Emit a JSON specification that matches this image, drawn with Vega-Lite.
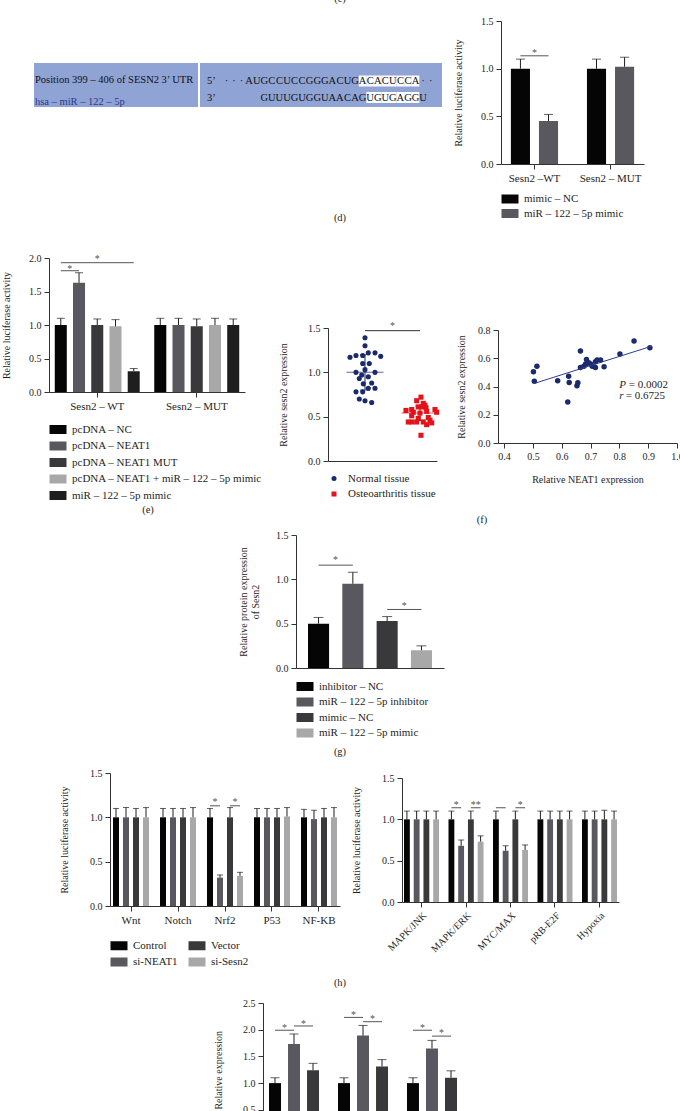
{
"$schema":"https://vega.github.io/schema/vega-lite/v6.json",
"background":"white",
"width":680,"height":1111,
"autosize":"none",
"padding":0,
"config":{
 "font":"Liberation Serif",
 "view":{"stroke":null},
 "axis":{"labelFont":"Liberation Serif","titleFont":"Liberation Serif","labelFontSize":10,"titleFontSize":10,"titleFontWeight":"normal","labelColor":"#1e1e1e","titleColor":"#1e1e1e","domainColor":"#333333","tickColor":"#333333","tickSize":5,"labelPadding":3,"grid":false,"labelFlush":false},
 "legend":{"labelFont":"Liberation Serif","labelFontSize":11,"labelColor":"#1e1e1e","symbolStrokeWidth":0,"labelOffset":8.5,"labelLimit":400},
 "text":{"font":"Liberation Serif"}
},
"resolve":{"scale":{"x":"independent","y":"independent","xOffset":"independent","color":"independent","shape":"independent"},"axis":{"x":"independent","y":"independent"},"legend":{"color":"independent","shape":"independent"}},
"layer":[
 {"data":{"values":[{"t":"(c)"}]},"mark":{"type":"text","fontSize":10.5,"color":"#1e1e1e"},
  "encoding":{"text":{"field":"t","type":"nominal"},"x":{"field":"t","type":"nominal","scale":{"range":[0,680]},"axis":null},"y":{"field":"t","type":"nominal","scale":{"range":[-12,9]},"axis":null}}},
 {"data":{"values":[{"t":"(d)"}]},"mark":{"type":"text","fontSize":10.5,"color":"#1e1e1e"},
  "encoding":{"text":{"field":"t","type":"nominal"},"x":{"field":"t","type":"nominal","scale":{"range":[0,680]},"axis":null},"y":{"field":"t","type":"nominal","scale":{"range":[208,228]},"axis":null}}},
 {"data":{"values":[{"t":"(e)"},{"t":"(f)"}]},"mark":{"type":"text","fontSize":10.5,"color":"#1e1e1e"},
  "encoding":{"text":{"field":"t","type":"nominal"},"x":{"field":"t","type":"nominal","scale":{"domain":["(e)","(f)"],"range":[-19,649],"paddingInner":0,"paddingOuter":0},"axis":null},"y":{"field":"t","type":"nominal","scale":{"range":[505,525]},"axis":null}}},
 {"data":{"values":[{"t":"(g)"}]},"mark":{"type":"text","fontSize":10.5,"color":"#1e1e1e"},
  "encoding":{"text":{"field":"t","type":"nominal"},"x":{"field":"t","type":"nominal","scale":{"range":[0,680]},"axis":null},"y":{"field":"t","type":"nominal","scale":{"range":[742,762]},"axis":null}}},
 {"data":{"values":[{"t":"(h)"}]},"mark":{"type":"text","fontSize":10.5,"color":"#1e1e1e"},
  "encoding":{"text":{"field":"t","type":"nominal"},"x":{"field":"t","type":"nominal","scale":{"range":[0,680]},"axis":null},"y":{"field":"t","type":"nominal","scale":{"range":[973,993]},"axis":null}}},

 {"data":{"values":[{"c":"L"}]},"mark":{"type":"rect","color":"#8fa3d4"},
  "encoding":{"x":{"field":"c","type":"nominal","scale":{"range":[34,198],"paddingInner":0,"paddingOuter":0},"axis":null},"y":{"field":"c","type":"nominal","scale":{"range":[63,107],"paddingInner":0,"paddingOuter":0},"axis":null}}},
 {"data":{"values":[{"c":"R"}]},"mark":{"type":"rect","color":"#8fa3d4"},
  "encoding":{"x":{"field":"c","type":"nominal","scale":{"range":[200,442],"paddingInner":0,"paddingOuter":0},"axis":null},"y":{"field":"c","type":"nominal","scale":{"range":[63,107],"paddingInner":0,"paddingOuter":0},"axis":null}}},
 {"data":{"values":[{"col":"c","row":"s5","t":"Position 399 – 406 of SESN2 3’ UTR"},{"col":"c","row":"s3","t":"hsa – miR – 122 – 5p"}]},
  "encoding":{
    "x":{"field":"col","type":"nominal","scale":{"type":"point","padding":0,"align":0,"range":[34,198]},"axis":null},
    "y":{"field":"row","type":"nominal","scale":{"domain":["s5","s3"],"range":[63,107],"paddingInner":0.333,"paddingOuter":0.5,"align":0.758},"axis":null},
    "text":{"field":"t","type":"nominal"}},
  "layer":[
    {"transform":[{"filter":"datum.row == 's5'"}],"mark":{"type":"text","align":"left","baseline":"middle","dx":1,"fontSize":10.5,"color":"#111111"}},
    {"transform":[{"filter":"datum.row == 's3'"}],"mark":{"type":"text","align":"left","baseline":"middle","dx":1,"fontSize":10.5,"color":"#2b3990"}}
  ]},
 {"data":{"values":[
    {"row":"s5","pos":1,"nt":"5’"},{"row":"s5","pos":3,"nt":"·"},{"row":"s5","pos":4,"nt":"·"},{"row":"s5","pos":5,"nt":"·"},
    {"row":"s5","pos":6,"nt":"A"},{"row":"s5","pos":7,"nt":"U"},{"row":"s5","pos":8,"nt":"G"},{"row":"s5","pos":9,"nt":"C"},{"row":"s5","pos":10,"nt":"C"},{"row":"s5","pos":11,"nt":"U"},{"row":"s5","pos":12,"nt":"C"},{"row":"s5","pos":13,"nt":"C"},{"row":"s5","pos":14,"nt":"G"},{"row":"s5","pos":15,"nt":"G"},{"row":"s5","pos":16,"nt":"G"},{"row":"s5","pos":17,"nt":"A"},{"row":"s5","pos":18,"nt":"C"},{"row":"s5","pos":19,"nt":"U"},{"row":"s5","pos":20,"nt":"G"},
    {"row":"s5","pos":21,"nt":"A","seed":true},{"row":"s5","pos":22,"nt":"C","seed":true},{"row":"s5","pos":23,"nt":"A","seed":true},{"row":"s5","pos":24,"nt":"C","seed":true},{"row":"s5","pos":25,"nt":"U","seed":true},{"row":"s5","pos":26,"nt":"C","seed":true},{"row":"s5","pos":27,"nt":"C","seed":true},{"row":"s5","pos":28,"nt":"A","seed":true},
    {"row":"s5","pos":29,"nt":"·"},{"row":"s5","pos":30,"nt":"·"},
    {"row":"s3","pos":1,"nt":"3’"},
    {"row":"s3","pos":8,"nt":"G"},{"row":"s3","pos":9,"nt":"U"},{"row":"s3","pos":10,"nt":"U"},{"row":"s3","pos":11,"nt":"U"},{"row":"s3","pos":12,"nt":"G"},{"row":"s3","pos":13,"nt":"U"},{"row":"s3","pos":14,"nt":"G"},{"row":"s3","pos":15,"nt":"G"},{"row":"s3","pos":16,"nt":"U"},{"row":"s3","pos":17,"nt":"A"},{"row":"s3","pos":18,"nt":"A"},{"row":"s3","pos":19,"nt":"C"},{"row":"s3","pos":20,"nt":"A"},{"row":"s3","pos":21,"nt":"G"},
    {"row":"s3","pos":22,"nt":"U","seed":true},{"row":"s3","pos":23,"nt":"G","seed":true},{"row":"s3","pos":24,"nt":"U","seed":true},{"row":"s3","pos":25,"nt":"G","seed":true},{"row":"s3","pos":26,"nt":"A","seed":true},{"row":"s3","pos":27,"nt":"G","seed":true},{"row":"s3","pos":28,"nt":"G","seed":true},
    {"row":"s3","pos":29,"nt":"U"}]},
  "encoding":{
    "x":{"field":"pos","type":"ordinal","axis":null,"scale":{"domain":[0,1,2,3,4,5,6,7,8,9,10,11,12,13,14,15,16,17,18,19,20,21,22,23,24,25,26,27,28,29,30,31],"range":[200,442],"paddingInner":0,"paddingOuter":0}},
    "y":{"field":"row","type":"nominal","axis":null,"scale":{"domain":["s5","s3"],"range":[63,107],"paddingInner":0.333,"paddingOuter":0.5,"align":0.758}}},
  "layer":[
    {"transform":[{"filter":"datum.seed"}],"mark":{"type":"rect","color":"#ffffff"}},
    {"mark":{"type":"text","baseline":"middle","fontSize":10.5,"color":"#111111"},"encoding":{"text":{"field":"nt","type":"nominal"}}}
  ]},

 {"data":{"values":[
    {"g":"Sesn2 –WT","s":"mimic – NC","v":1.0,"e":1.1},
    {"g":"Sesn2 –WT","s":"miR – 122 – 5p mimic","v":0.45,"e":0.52},
    {"g":"Sesn2 – MUT","s":"mimic – NC","v":1.0,"e":1.1},
    {"g":"Sesn2 – MUT","s":"miR – 122 – 5p mimic","v":1.02,"e":1.12}]},
  "encoding":{
    "x":{"field":"g","type":"nominal","scale":{"domain":["Sesn2 –WT","Sesn2 – MUT"],"range":[501,644],"paddingInner":0.38,"paddingOuter":0.13},"axis":{"orient":"bottom","offset":-947,"title":null,"labelAngle":0,"labelFontSize":11}},
    "xOffset":{"field":"s","type":"nominal","scale":{"domain":["mimic – NC","miR – 122 – 5p mimic"],"paddingInner":0.32,"paddingOuter":0}}},
  "layer":[
    {"mark":{"type":"bar"},"encoding":{
      "y":{"field":"v","type":"quantitative","title":"Relative luciferase activity","scale":{"domain":[0,1.5],"nice":false,"range":[164,21]},"axis":{"orient":"left","offset":-501,"values":[0,0.5,1,1.5],"format":".1f","titlePadding":17}},
      "color":{"field":"s","type":"nominal","scale":{"domain":["mimic – NC","miR – 122 – 5p mimic"],"range":["#050505","#58585e"]},"legend":{"title":null,"orient":"none","legendX":504.5,"legendY":193.5,"symbolType":"M-1.7,-0.9H1.7V0.9H-1.7Z","symbolSize":100,"rowPadding":2.5}}}},
    {"mark":{"type":"rule","color":"#1e1e1e","strokeWidth":1},"encoding":{
      "y":{"field":"v","type":"quantitative","title":"Relative luciferase activity","scale":{"domain":[0,1.5],"nice":false,"range":[164,21]},"axis":{"orient":"left","offset":-501,"values":[0,0.5,1,1.5],"format":".1f","titlePadding":17}},
      "y2":{"field":"e"}}},
    {"mark":{"type":"tick","orient":"horizontal","size":9,"thickness":1,"color":"#1e1e1e"},"encoding":{
      "y":{"field":"e","type":"quantitative","title":"Relative luciferase activity","scale":{"domain":[0,1.5],"nice":false,"range":[164,21]},"axis":{"orient":"left","offset":-501,"values":[0,0.5,1,1.5],"format":".1f","titlePadding":17}}}},
    {"data":{"values":[{"id":1,"g":"Sesn2 –WT","s":"mimic – NC","lv":1.135},{"id":1,"g":"Sesn2 –WT","s":"miR – 122 – 5p mimic","lv":1.135}]},
     "mark":{"type":"line","color":"#555555","strokeWidth":1},"encoding":{
      "y":{"field":"lv","type":"quantitative","title":"Relative luciferase activity","scale":{"domain":[0,1.5],"nice":false,"range":[164,21]},"axis":{"orient":"left","offset":-501,"values":[0,0.5,1,1.5],"format":".1f","titlePadding":17}},
      "detail":{"field":"id","type":"nominal"}}},
    {"data":{"values":[{"g":"Sesn2 –WT","s":"mimic – NC","lv":1.19,"t":"*"}]},
     "mark":{"type":"text","dx":14,"dy":2,"fontSize":10,"color":"#555555"},"encoding":{
      "y":{"field":"lv","type":"quantitative","title":"Relative luciferase activity","scale":{"domain":[0,1.5],"nice":false,"range":[164,21]},"axis":{"orient":"left","offset":-501,"values":[0,0.5,1,1.5],"format":".1f","titlePadding":17}},
      "text":{"field":"t","type":"nominal"}}}
  ]},

 {"data":{"values":[
    {"g":"Sesn2 – WT","s":"pcDNA – NC","v":1.0,"e":1.1},
    {"g":"Sesn2 – WT","s":"pcDNA – NEAT1","v":1.63,"e":1.78},
    {"g":"Sesn2 – WT","s":"pcDNA – NEAT1 MUT","v":1.0,"e":1.09},
    {"g":"Sesn2 – WT","s":"pcDNA – NEAT1 + miR – 122 – 5p mimic","v":0.98,"e":1.08},
    {"g":"Sesn2 – WT","s":"miR – 122 – 5p mimic","v":0.31,"e":0.35},
    {"g":"Sesn2 – MUT","s":"pcDNA – NC","v":1.0,"e":1.1},
    {"g":"Sesn2 – MUT","s":"pcDNA – NEAT1","v":1.0,"e":1.1},
    {"g":"Sesn2 – MUT","s":"pcDNA – NEAT1 MUT","v":0.98,"e":1.09},
    {"g":"Sesn2 – MUT","s":"pcDNA – NEAT1 + miR – 122 – 5p mimic","v":1.0,"e":1.1},
    {"g":"Sesn2 – MUT","s":"miR – 122 – 5p mimic","v":1.0,"e":1.09}]},
  "encoding":{
    "x":{"field":"g","type":"nominal","scale":{"domain":["Sesn2 – WT","Sesn2 – MUT"],"range":[49,245],"paddingInner":0.146,"paddingOuter":0.058},"axis":{"orient":"bottom","offset":-719,"title":null,"labelAngle":0,"labelFontSize":11}},
    "xOffset":{"field":"s","type":"nominal","scale":{"domain":["pcDNA – NC","pcDNA – NEAT1","pcDNA – NEAT1 MUT","pcDNA – NEAT1 + miR – 122 – 5p mimic","miR – 122 – 5p mimic"],"paddingInner":0.34,"paddingOuter":0}}},
  "layer":[
    {"mark":{"type":"bar"},"encoding":{
      "y":{"field":"v","type":"quantitative","title":"Relative luciferase activity","scale":{"domain":[0,2],"nice":false,"range":[392,258]},"axis":{"orient":"left","offset":-49,"values":[0,0.5,1,1.5,2],"format":".1f","titlePadding":17}},
      "color":{"field":"s","type":"nominal","scale":{"domain":["pcDNA – NC","pcDNA – NEAT1","pcDNA – NEAT1 MUT","pcDNA – NEAT1 + miR – 122 – 5p mimic","miR – 122 – 5p mimic"],"range":["#050505","#58585e","#39393b","#a8a8a8","#1e1e1e"]},"legend":{"title":null,"orient":"none","legendX":52.5,"legendY":424,"symbolType":"M-1.7,-0.9H1.7V0.9H-1.7Z","symbolSize":100,"rowPadding":4.5}}}},
    {"mark":{"type":"rule","color":"#1e1e1e","strokeWidth":1},"encoding":{
      "y":{"field":"v","type":"quantitative","title":"Relative luciferase activity","scale":{"domain":[0,2],"nice":false,"range":[392,258]},"axis":{"orient":"left","offset":-49,"values":[0,0.5,1,1.5,2],"format":".1f","titlePadding":17}},
      "y2":{"field":"e"}}},
    {"mark":{"type":"tick","orient":"horizontal","size":8,"thickness":1,"color":"#1e1e1e"},"encoding":{
      "y":{"field":"e","type":"quantitative","title":"Relative luciferase activity","scale":{"domain":[0,2],"nice":false,"range":[392,258]},"axis":{"orient":"left","offset":-49,"values":[0,0.5,1,1.5,2],"format":".1f","titlePadding":17}}}},
    {"data":{"values":[{"id":1,"g":"Sesn2 – WT","s":"pcDNA – NC","lv":1.81},{"id":1,"g":"Sesn2 – WT","s":"pcDNA – NEAT1","lv":1.81},{"id":2,"g":"Sesn2 – WT","s":"pcDNA – NC","lv":1.93},{"id":2,"g":"Sesn2 – WT","s":"miR – 122 – 5p mimic","lv":1.93}]},
     "mark":{"type":"line","color":"#555555","strokeWidth":1},"encoding":{
      "y":{"field":"lv","type":"quantitative","title":"Relative luciferase activity","scale":{"domain":[0,2],"nice":false,"range":[392,258]},"axis":{"orient":"left","offset":-49,"values":[0,0.5,1,1.5,2],"format":".1f","titlePadding":17}},
      "detail":{"field":"id","type":"nominal"}}},
    {"data":{"values":[{"g":"Sesn2 – WT","s":"pcDNA – NC","lv":1.87,"t":"*"}]},
     "mark":{"type":"text","dx":9,"dy":2,"fontSize":10,"color":"#555555"},"encoding":{
      "y":{"field":"lv","type":"quantitative","title":"Relative luciferase activity","scale":{"domain":[0,2],"nice":false,"range":[392,258]},"axis":{"orient":"left","offset":-49,"values":[0,0.5,1,1.5,2],"format":".1f","titlePadding":17}},
      "text":{"field":"t","type":"nominal"}}},
    {"data":{"values":[{"g":"Sesn2 – WT","s":"pcDNA – NEAT1 MUT","lv":2.01,"t":"*"}]},
     "mark":{"type":"text","dy":2,"fontSize":10,"color":"#555555"},"encoding":{
      "y":{"field":"lv","type":"quantitative","title":"Relative luciferase activity","scale":{"domain":[0,2],"nice":false,"range":[392,258]},"axis":{"orient":"left","offset":-49,"values":[0,0.5,1,1.5,2],"format":".1f","titlePadding":17}},
      "text":{"field":"t","type":"nominal"}}}
  ]},

 {"layer":[
    {"data":{"values":[
      {"grp":"Normal tissue","v":1.39,"j":0},{"grp":"Normal tissue","v":1.30,"j":0},{"grp":"Normal tissue","v":1.17,"j":-15},{"grp":"Normal tissue","v":1.19,"j":-9},{"grp":"Normal tissue","v":1.19,"j":-2.3},{"grp":"Normal tissue","v":1.22,"j":3.3},{"grp":"Normal tissue","v":1.22,"j":10},{"grp":"Normal tissue","v":1.18,"j":15.7},{"grp":"Normal tissue","v":1.10,"j":-2.3},{"grp":"Normal tissue","v":1.10,"j":4.3},{"grp":"Normal tissue","v":1.03,"j":0},{"grp":"Normal tissue","v":1.0,"j":-9},{"grp":"Normal tissue","v":1.0,"j":10},{"grp":"Normal tissue","v":0.97,"j":-3.3},{"grp":"Normal tissue","v":0.95,"j":3.3},{"grp":"Normal tissue","v":0.93,"j":-5.7},{"grp":"Normal tissue","v":0.87,"j":-1.7},{"grp":"Normal tissue","v":0.88,"j":6.7},{"grp":"Normal tissue","v":0.82,"j":3.3},{"grp":"Normal tissue","v":0.82,"j":10},{"grp":"Normal tissue","v":0.78,"j":-9},{"grp":"Normal tissue","v":0.78,"j":-2.3},{"grp":"Normal tissue","v":0.70,"j":-5.7},{"grp":"Normal tissue","v":0.68,"j":0},{"grp":"Normal tissue","v":0.66,"j":6.7},
      {"grp":"Osteoarthritis tissue","v":0.72,"j":1},{"grp":"Osteoarthritis tissue","v":0.68,"j":-3.3},{"grp":"Osteoarthritis tissue","v":0.65,"j":3.3},{"grp":"Osteoarthritis tissue","v":0.63,"j":5},{"grp":"Osteoarthritis tissue","v":0.61,"j":-1.7},{"grp":"Osteoarthritis tissue","v":0.60,"j":6},{"grp":"Osteoarthritis tissue","v":0.58,"j":-8.3},{"grp":"Osteoarthritis tissue","v":0.57,"j":-14},{"grp":"Osteoarthritis tissue","v":0.58,"j":15},{"grp":"Osteoarthritis tissue","v":0.55,"j":-6.7},{"grp":"Osteoarthritis tissue","v":0.54,"j":0},{"grp":"Osteoarthritis tissue","v":0.56,"j":6.7},{"grp":"Osteoarthritis tissue","v":0.55,"j":16.7},{"grp":"Osteoarthritis tissue","v":0.51,"j":-8.3},{"grp":"Osteoarthritis tissue","v":0.49,"j":8.3},{"grp":"Osteoarthritis tissue","v":0.46,"j":10},{"grp":"Osteoarthritis tissue","v":0.44,"j":-8.3},{"grp":"Osteoarthritis tissue","v":0.44,"j":-3.3},{"grp":"Osteoarthritis tissue","v":0.44,"j":3.3},{"grp":"Osteoarthritis tissue","v":0.43,"j":11.7},{"grp":"Osteoarthritis tissue","v":0.41,"j":6.7},{"grp":"Osteoarthritis tissue","v":0.29,"j":1},{"grp":"Osteoarthritis tissue","v":0.44,"j":-11.7},{"grp":"Osteoarthritis tissue","v":0.48,"j":-1.7},{"grp":"Osteoarthritis tissue","v":0.61,"j":1.7}]},
     "mark":{"type":"point","filled":true,"opacity":1,"size":26,"strokeWidth":0},
     "encoding":{
       "x":{"field":"grp","type":"nominal","scale":{"domain":["Normal tissue","Osteoarthritis tissue"],"range":[328,437],"paddingInner":0.5,"paddingOuter":0.241,"align":0.877},"axis":{"orient":"bottom","offset":-650,"labels":false,"ticks":false,"title":null}},
       "xOffset":{"field":"j","type":"quantitative","scale":{"domain":[-20,20],"range":[-6.25,33.75]}},
       "y":{"field":"v","type":"quantitative","title":"Relative sesn2 expression","scale":{"domain":[0,1.5],"nice":false,"range":[461,328]},"axis":{"orient":"left","offset":-328,"values":[0,0.5,1,1.5],"format":".1f","titlePadding":19}},
       "color":{"field":"grp","type":"nominal","scale":{"domain":["Normal tissue","Osteoarthritis tissue"],"range":["#1b2a6b","#e3121b"]},"legend":{"title":null,"orient":"none","legendX":328.5,"legendY":473,"symbolSize":25,"rowPadding":3.5,"labelOffset":8.5}},
       "shape":{"field":"grp","type":"nominal","scale":{"domain":["Normal tissue","Osteoarthritis tissue"],"range":["circle","square"]},"legend":{"title":null,"orient":"none","legendX":328.5,"legendY":473,"symbolSize":25,"rowPadding":3.5,"labelOffset":8.5}}}},
    {"data":{"values":[{"grp":"Normal tissue","m":1.0,"lo":0.8,"hi":1.2},{"grp":"Osteoarthritis tissue","m":0.54,"lo":0.46,"hi":0.62}]},
     "encoding":{
       "x":{"field":"grp","type":"nominal","scale":{"domain":["Normal tissue","Osteoarthritis tissue"],"range":[328,437],"paddingInner":0.5,"paddingOuter":0.241,"align":0.877},"axis":{"orient":"bottom","offset":-650,"labels":false,"ticks":false,"title":null}},
       "color":{"field":"grp","type":"nominal","scale":{"domain":["Normal tissue","Osteoarthritis tissue"],"range":["#1b2a6b","#e3121b"]},"legend":{"title":null,"orient":"none","legendX":328.5,"legendY":473,"symbolSize":25,"rowPadding":3.5,"labelOffset":8.5}}},
     "layer":[
       {"mark":{"type":"tick","orient":"horizontal","size":37,"thickness":1},"encoding":{"y":{"field":"m","type":"quantitative","title":"Relative sesn2 expression","scale":{"domain":[0,1.5],"nice":false,"range":[461,328]},"axis":{"orient":"left","offset":-328,"values":[0,0.5,1,1.5],"format":".1f","titlePadding":19}}}},
       {"mark":{"type":"rule","strokeWidth":1},"encoding":{"y":{"field":"lo","type":"quantitative","title":"Relative sesn2 expression","scale":{"domain":[0,1.5],"nice":false,"range":[461,328]},"axis":{"orient":"left","offset":-328,"values":[0,0.5,1,1.5],"format":".1f","titlePadding":19}},"y2":{"field":"hi"}}},
       {"mark":{"type":"tick","orient":"horizontal","size":10,"thickness":1},"encoding":{"y":{"field":"lo","type":"quantitative","title":"Relative sesn2 expression","scale":{"domain":[0,1.5],"nice":false,"range":[461,328]},"axis":{"orient":"left","offset":-328,"values":[0,0.5,1,1.5],"format":".1f","titlePadding":19}}}},
       {"mark":{"type":"tick","orient":"horizontal","size":10,"thickness":1},"encoding":{"y":{"field":"hi","type":"quantitative","title":"Relative sesn2 expression","scale":{"domain":[0,1.5],"nice":false,"range":[461,328]},"axis":{"orient":"left","offset":-328,"values":[0,0.5,1,1.5],"format":".1f","titlePadding":19}}}}
     ]},
    {"data":{"values":[{"id":1,"grp":"Normal tissue","lv":1.47},{"id":1,"grp":"Osteoarthritis tissue","lv":1.47}]},
     "mark":{"type":"line","color":"#333333","strokeWidth":1},
     "encoding":{
       "x":{"field":"grp","type":"nominal","scale":{"domain":["Normal tissue","Osteoarthritis tissue"],"range":[328,437],"paddingInner":0.5,"paddingOuter":0.241,"align":0.877},"axis":{"orient":"bottom","offset":-650,"labels":false,"ticks":false,"title":null}},
       "y":{"field":"lv","type":"quantitative","title":"Relative sesn2 expression","scale":{"domain":[0,1.5],"nice":false,"range":[461,328]},"axis":{"orient":"left","offset":-328,"values":[0,0.5,1,1.5],"format":".1f","titlePadding":19}},
       "detail":{"field":"id","type":"nominal"}}},
    {"data":{"values":[{"grp":"Normal tissue","lv":1.55,"t":"*"}]},
     "mark":{"type":"text","dx":27.5,"dy":2,"fontSize":10,"color":"#555555"},
     "encoding":{
       "x":{"field":"grp","type":"nominal","scale":{"domain":["Normal tissue","Osteoarthritis tissue"],"range":[328,437],"paddingInner":0.5,"paddingOuter":0.241,"align":0.877},"axis":{"orient":"bottom","offset":-650,"labels":false,"ticks":false,"title":null}},
       "y":{"field":"lv","type":"quantitative","title":"Relative sesn2 expression","scale":{"domain":[0,1.5],"nice":false,"range":[461,328]},"axis":{"orient":"left","offset":-328,"values":[0,0.5,1,1.5],"format":".1f","titlePadding":19}},
       "text":{"field":"t","type":"nominal"}}}
 ]},

 {"data":{"values":[
    {"x":0.502,"y":0.504},{"x":0.514,"y":0.544},{"x":0.505,"y":0.438},{"x":0.586,"y":0.44},{"x":0.624,"y":0.473},{"x":0.626,"y":0.428},{"x":0.621,"y":0.291},{"x":0.653,"y":0.405},{"x":0.656,"y":0.426},{"x":0.665,"y":0.651},{"x":0.665,"y":0.535},{"x":0.677,"y":0.544},{"x":0.683,"y":0.559},{"x":0.686,"y":0.592},{"x":0.694,"y":0.568},{"x":0.70,"y":0.559},{"x":0.706,"y":0.544},{"x":0.717,"y":0.575},{"x":0.723,"y":0.587},{"x":0.717,"y":0.535},{"x":0.735,"y":0.587},{"x":0.747,"y":0.54},{"x":0.802,"y":0.63},{"x":0.851,"y":0.722},{"x":0.906,"y":0.675}]},
  "encoding":{
    "x":{"field":"x","type":"quantitative","title":"Relative NEAT1 expression","scale":{"domain":[0.379,1.0],"nice":false,"zero":false,"range":[498,677]},"axis":{"orient":"bottom","offset":-668,"values":[0.4,0.5,0.6,0.7,0.8,0.9,1.0],"format":".1f","labelFlush":false,"labelOverlap":false,"titlePadding":13}},
    "y":{"field":"y","type":"quantitative","title":"Relative sesn2 expression","scale":{"domain":[0,0.8],"nice":false,"range":[443,330]},"axis":{"orient":"left","offset":-498,"values":[0,0.2,0.4,0.6,0.8],"format":".1f","titlePadding":11}}},
  "layer":[
    {"mark":{"type":"circle","size":30,"opacity":1,"color":"#1b2a6b"}},
    {"transform":[{"regression":"y","on":"x","extent":[0.503,0.912]}],"mark":{"type":"line","color":"#2e3d8f","strokeWidth":1}},
    {"data":{"values":[{"x":0.8,"y":0.41,"sym":"P","rest":"= 0.0002"},{"x":0.8,"y":0.333,"sym":"r","rest":"= 0.6725"}]},
     "layer":[
       {"mark":{"type":"text","align":"left","baseline":"middle","fontSize":11,"fontStyle":"italic","color":"#1e1e1e"},"encoding":{"text":{"field":"sym","type":"nominal"}}},
       {"transform":[{"filter":"datum.sym == 'P'"}],"mark":{"type":"text","align":"left","baseline":"middle","fontSize":11,"dx":9.5,"color":"#1e1e1e"},"encoding":{"text":{"field":"rest","type":"nominal"}}},
       {"transform":[{"filter":"datum.sym == 'r'"}],"mark":{"type":"text","align":"left","baseline":"middle","fontSize":11,"dx":6.5,"color":"#1e1e1e"},"encoding":{"text":{"field":"rest","type":"nominal"}}}
     ]}
  ]},

 {"data":{"values":[
    {"s":"inhibitor – NC","v":0.5,"e":0.57},
    {"s":"miR – 122 – 5p inhibitor","v":0.95,"e":1.08},
    {"s":"mimic – NC","v":0.53,"e":0.58},
    {"s":"miR – 122 – 5p mimic","v":0.2,"e":0.25}]},
  "encoding":{
    "x":{"field":"s","type":"nominal","scale":{"domain":["inhibitor – NC","miR – 122 – 5p inhibitor","mimic – NC","miR – 122 – 5p mimic"],"range":[296,444],"paddingInner":0.386,"paddingOuter":0.35},"axis":{"orient":"bottom","offset":-443,"labels":false,"ticks":false,"title":null}}},
  "layer":[
    {"mark":{"type":"bar"},"encoding":{
      "y":{"field":"v","type":"quantitative","title":["Relative protein expression","of Sesn2"],"scale":{"domain":[0,1.5],"nice":false,"range":[668,535]},"axis":{"orient":"left","offset":-296,"values":[0,0.5,1,1.5],"format":".1f","titlePadding":15}},
      "color":{"field":"s","type":"nominal","scale":{"domain":["inhibitor – NC","miR – 122 – 5p inhibitor","mimic – NC","miR – 122 – 5p mimic"],"range":["#050505","#58585e","#39393b","#a8a8a8"]},"legend":{"title":null,"orient":"none","legendX":299.5,"legendY":681,"symbolType":"M-1.7,-0.9H1.7V0.9H-1.7Z","symbolSize":100,"rowPadding":3.5}}}},
    {"mark":{"type":"rule","color":"#1e1e1e","strokeWidth":1},"encoding":{
      "y":{"field":"v","type":"quantitative","title":["Relative protein expression","of Sesn2"],"scale":{"domain":[0,1.5],"nice":false,"range":[668,535]},"axis":{"orient":"left","offset":-296,"values":[0,0.5,1,1.5],"format":".1f","titlePadding":15}},
      "y2":{"field":"e"}}},
    {"mark":{"type":"tick","orient":"horizontal","size":10,"thickness":1,"color":"#1e1e1e"},"encoding":{
      "y":{"field":"e","type":"quantitative","title":["Relative protein expression","of Sesn2"],"scale":{"domain":[0,1.5],"nice":false,"range":[668,535]},"axis":{"orient":"left","offset":-296,"values":[0,0.5,1,1.5],"format":".1f","titlePadding":15}}}},
    {"data":{"values":[{"id":1,"s":"inhibitor – NC","lv":1.16},{"id":1,"s":"miR – 122 – 5p inhibitor","lv":1.16},{"id":2,"s":"mimic – NC","lv":0.66},{"id":2,"s":"miR – 122 – 5p mimic","lv":0.66}]},
     "mark":{"type":"line","color":"#555555","strokeWidth":1},"encoding":{
      "y":{"field":"lv","type":"quantitative","title":["Relative protein expression","of Sesn2"],"scale":{"domain":[0,1.5],"nice":false,"range":[668,535]},"axis":{"orient":"left","offset":-296,"values":[0,0.5,1,1.5],"format":".1f","titlePadding":15}},
      "detail":{"field":"id","type":"nominal"}}},
    {"data":{"values":[{"s":"inhibitor – NC","lv":1.24,"t":"*"},{"s":"mimic – NC","lv":0.72,"t":"*"}]},
     "mark":{"type":"text","dx":17,"dy":2,"fontSize":10,"color":"#555555"},"encoding":{
      "y":{"field":"lv","type":"quantitative","title":["Relative protein expression","of Sesn2"],"scale":{"domain":[0,1.5],"nice":false,"range":[668,535]},"axis":{"orient":"left","offset":-296,"values":[0,0.5,1,1.5],"format":".1f","titlePadding":15}},
      "text":{"field":"t","type":"nominal"}}}
  ]},

 {"data":{"values":[
    {"g":"Wnt","s":"Control","v":1.0,"e":1.1},{"g":"Wnt","s":"si-NEAT1","v":1.0,"e":1.11},{"g":"Wnt","s":"Vector","v":1.0,"e":1.1},{"g":"Wnt","s":"si-Sesn2","v":1.0,"e":1.11},
    {"g":"Notch","s":"Control","v":1.0,"e":1.1},{"g":"Notch","s":"si-NEAT1","v":1.0,"e":1.1},{"g":"Notch","s":"Vector","v":1.0,"e":1.1},{"g":"Notch","s":"si-Sesn2","v":1.0,"e":1.11},
    {"g":"Nrf2","s":"Control","v":1.0,"e":1.1},{"g":"Nrf2","s":"si-NEAT1","v":0.32,"e":0.35},{"g":"Nrf2","s":"Vector","v":1.0,"e":1.11},{"g":"Nrf2","s":"si-Sesn2","v":0.34,"e":0.38},
    {"g":"P53","s":"Control","v":1.0,"e":1.1},{"g":"P53","s":"si-NEAT1","v":1.0,"e":1.1},{"g":"P53","s":"Vector","v":1.0,"e":1.1},{"g":"P53","s":"si-Sesn2","v":1.01,"e":1.11},
    {"g":"NF-KB","s":"Control","v":1.0,"e":1.09},{"g":"NF-KB","s":"si-NEAT1","v":0.98,"e":1.08},{"g":"NF-KB","s":"Vector","v":1.0,"e":1.1},{"g":"NF-KB","s":"si-Sesn2","v":1.0,"e":1.11}]},
  "encoding":{
    "x":{"field":"g","type":"nominal","scale":{"domain":["Wnt","Notch","Nrf2","P53","NF-KB"],"range":[110,340],"paddingInner":0.234,"paddingOuter":0.064},"axis":{"orient":"bottom","offset":-205,"title":null,"labelAngle":0,"labelFontSize":11}},
    "xOffset":{"field":"s","type":"nominal","scale":{"domain":["Control","si-NEAT1","Vector","si-Sesn2"],"paddingInner":0.4,"paddingOuter":0}}},
  "layer":[
    {"mark":{"type":"bar"},"encoding":{
      "y":{"field":"v","type":"quantitative","title":"Relative luciferase activity","scale":{"domain":[0,1.5],"nice":false,"range":[906,773]},"axis":{"orient":"left","offset":-110,"values":[0,0.5,1,1.5],"format":".1f","titlePadding":20}},
      "color":{"field":"s","type":"nominal","scale":{"domain":["Control","si-NEAT1","Vector","si-Sesn2"],"range":["#050505","#58585e","#39393b","#a8a8a8"]},"legend":{"title":null,"orient":"none","legendX":113.5,"legendY":940,"columns":2,"columnPadding":10,"symbolType":"M-1.7,-0.9H1.7V0.9H-1.7Z","symbolSize":100,"rowPadding":4.5}}}},
    {"mark":{"type":"rule","color":"#1e1e1e","strokeWidth":1},"encoding":{
      "y":{"field":"v","type":"quantitative","title":"Relative luciferase activity","scale":{"domain":[0,1.5],"nice":false,"range":[906,773]},"axis":{"orient":"left","offset":-110,"values":[0,0.5,1,1.5],"format":".1f","titlePadding":20}},
      "y2":{"field":"e"}}},
    {"mark":{"type":"tick","orient":"horizontal","size":6,"thickness":1,"color":"#1e1e1e"},"encoding":{
      "y":{"field":"e","type":"quantitative","title":"Relative luciferase activity","scale":{"domain":[0,1.5],"nice":false,"range":[906,773]},"axis":{"orient":"left","offset":-110,"values":[0,0.5,1,1.5],"format":".1f","titlePadding":20}}}},
    {"data":{"values":[{"id":1,"g":"Nrf2","s":"Control","lv":1.13},{"id":1,"g":"Nrf2","s":"si-NEAT1","lv":1.13},{"id":2,"g":"Nrf2","s":"Vector","lv":1.13},{"id":2,"g":"Nrf2","s":"si-Sesn2","lv":1.13}]},
     "mark":{"type":"line","color":"#555555","strokeWidth":1},"encoding":{
      "y":{"field":"lv","type":"quantitative","title":"Relative luciferase activity","scale":{"domain":[0,1.5],"nice":false,"range":[906,773]},"axis":{"orient":"left","offset":-110,"values":[0,0.5,1,1.5],"format":".1f","titlePadding":20}},
      "detail":{"field":"id","type":"nominal"}}},
    {"data":{"values":[{"g":"Nrf2","s":"Control","lv":1.19,"t":"*"},{"g":"Nrf2","s":"Vector","lv":1.19,"t":"*"}]},
     "mark":{"type":"text","dx":5,"dy":2,"fontSize":10,"color":"#555555"},"encoding":{
      "y":{"field":"lv","type":"quantitative","title":"Relative luciferase activity","scale":{"domain":[0,1.5],"nice":false,"range":[906,773]},"axis":{"orient":"left","offset":-110,"values":[0,0.5,1,1.5],"format":".1f","titlePadding":20}},
      "text":{"field":"t","type":"nominal"}}}
  ]},

 {"data":{"values":[
    {"g":"MAPK/JNK","s":"Control","v":1.0,"e":1.1},{"g":"MAPK/JNK","s":"si-NEAT1","v":1.0,"e":1.1},{"g":"MAPK/JNK","s":"Vector","v":1.0,"e":1.1},{"g":"MAPK/JNK","s":"si-Sesn2","v":1.0,"e":1.1},
    {"g":"MAPK/ERK","s":"Control","v":1.0,"e":1.1},{"g":"MAPK/ERK","s":"si-NEAT1","v":0.68,"e":0.75},{"g":"MAPK/ERK","s":"Vector","v":1.0,"e":1.1},{"g":"MAPK/ERK","s":"si-Sesn2","v":0.73,"e":0.8},
    {"g":"MYC/MAX","s":"Control","v":1.0,"e":1.1},{"g":"MYC/MAX","s":"si-NEAT1","v":0.62,"e":0.68},{"g":"MYC/MAX","s":"Vector","v":1.0,"e":1.1},{"g":"MYC/MAX","s":"si-Sesn2","v":0.63,"e":0.69},
    {"g":"pRB-E2F","s":"Control","v":1.0,"e":1.1},{"g":"pRB-E2F","s":"si-NEAT1","v":1.0,"e":1.1},{"g":"pRB-E2F","s":"Vector","v":1.0,"e":1.1},{"g":"pRB-E2F","s":"si-Sesn2","v":1.0,"e":1.1},
    {"g":"Hypoxia","s":"Control","v":1.0,"e":1.1},{"g":"Hypoxia","s":"si-NEAT1","v":1.0,"e":1.1},{"g":"Hypoxia","s":"Vector","v":1.0,"e":1.11},{"g":"Hypoxia","s":"si-Sesn2","v":1.0,"e":1.1}]},
  "encoding":{
    "x":{"field":"g","type":"nominal","scale":{"domain":["MAPK/JNK","MAPK/ERK","MYC/MAX","pRB-E2F","Hypoxia"],"range":[402,619],"paddingInner":0.213,"paddingOuter":0.045},"axis":{"orient":"bottom","offset":-209,"title":null,"labelAngle":-45,"labelFontSize":10}},
    "xOffset":{"field":"s","type":"nominal","scale":{"domain":["Control","si-NEAT1","Vector","si-Sesn2"],"paddingInner":0.4,"paddingOuter":0}}},
  "layer":[
    {"mark":{"type":"bar"},"encoding":{
      "y":{"field":"v","type":"quantitative","title":"Relative luciferase activity","scale":{"domain":[0,1.5],"nice":false,"range":[902,778]},"axis":{"orient":"left","offset":-402,"values":[0,0.5,1,1.5],"format":".1f","titlePadding":20}},
      "color":{"field":"s","type":"nominal","scale":{"domain":["Control","si-NEAT1","Vector","si-Sesn2"],"range":["#050505","#58585e","#39393b","#a8a8a8"]},"legend":null}}},
    {"mark":{"type":"rule","color":"#1e1e1e","strokeWidth":1},"encoding":{
      "y":{"field":"v","type":"quantitative","title":"Relative luciferase activity","scale":{"domain":[0,1.5],"nice":false,"range":[902,778]},"axis":{"orient":"left","offset":-402,"values":[0,0.5,1,1.5],"format":".1f","titlePadding":20}},
      "y2":{"field":"e"}}},
    {"mark":{"type":"tick","orient":"horizontal","size":6,"thickness":1,"color":"#1e1e1e"},"encoding":{
      "y":{"field":"e","type":"quantitative","title":"Relative luciferase activity","scale":{"domain":[0,1.5],"nice":false,"range":[902,778]},"axis":{"orient":"left","offset":-402,"values":[0,0.5,1,1.5],"format":".1f","titlePadding":20}}}},
    {"data":{"values":[{"id":1,"g":"MAPK/ERK","s":"Control","lv":1.14},{"id":1,"g":"MAPK/ERK","s":"si-NEAT1","lv":1.14},{"id":2,"g":"MAPK/ERK","s":"Vector","lv":1.14},{"id":2,"g":"MAPK/ERK","s":"si-Sesn2","lv":1.14},{"id":3,"g":"MYC/MAX","s":"Control","lv":1.14},{"id":3,"g":"MYC/MAX","s":"si-NEAT1","lv":1.14},{"id":4,"g":"MYC/MAX","s":"Vector","lv":1.14},{"id":4,"g":"MYC/MAX","s":"si-Sesn2","lv":1.14}]},
     "mark":{"type":"line","color":"#555555","strokeWidth":1},"encoding":{
      "y":{"field":"lv","type":"quantitative","title":"Relative luciferase activity","scale":{"domain":[0,1.5],"nice":false,"range":[902,778]},"axis":{"orient":"left","offset":-402,"values":[0,0.5,1,1.5],"format":".1f","titlePadding":20}},
      "detail":{"field":"id","type":"nominal"}}},
    {"data":{"values":[{"g":"MAPK/ERK","s":"Control","lv":1.2,"t":"*"},{"g":"MAPK/ERK","s":"Vector","lv":1.2,"t":"**"},{"g":"MYC/MAX","s":"Vector","lv":1.2,"t":"*"}]},
     "mark":{"type":"text","dx":4.9,"dy":2,"fontSize":10,"color":"#555555"},"encoding":{
      "y":{"field":"lv","type":"quantitative","title":"Relative luciferase activity","scale":{"domain":[0,1.5],"nice":false,"range":[902,778]},"axis":{"orient":"left","offset":-402,"values":[0,0.5,1,1.5],"format":".1f","titlePadding":20}},
      "text":{"field":"t","type":"nominal"}}}
  ]},

 {"data":{"values":[
    {"g":"Group 1","s":"Control","v":1.0,"e":1.1},{"g":"Group 1","s":"pcDNA – NEAT1","v":1.73,"e":1.92},{"g":"Group 1","s":"pcDNA – NEAT1 + miR – 122 – 5p mimic","v":1.24,"e":1.37},
    {"g":"Group 2","s":"Control","v":1.0,"e":1.1},{"g":"Group 2","s":"pcDNA – NEAT1","v":1.89,"e":2.08},{"g":"Group 2","s":"pcDNA – NEAT1 + miR – 122 – 5p mimic","v":1.31,"e":1.44},
    {"g":"Group 3","s":"Control","v":1.0,"e":1.1},{"g":"Group 3","s":"pcDNA – NEAT1","v":1.65,"e":1.8},{"g":"Group 3","s":"pcDNA – NEAT1 + miR – 122 – 5p mimic","v":1.1,"e":1.23}]},
  "encoding":{
    "x":{"field":"g","type":"nominal","scale":{"domain":["Group 1","Group 2","Group 3"],"range":[263,463],"paddingInner":0.275,"paddingOuter":0.087},"axis":null},
    "xOffset":{"field":"s","type":"nominal","scale":{"domain":["Control","pcDNA – NEAT1","pcDNA – NEAT1 + miR – 122 – 5p mimic"],"paddingInner":0.37,"paddingOuter":0}}},
  "layer":[
    {"mark":{"type":"bar"},"encoding":{
      "y":{"field":"v","type":"quantitative","title":"Relative expression","scale":{"domain":[0,2.5],"nice":false,"range":[1136.5,1003]},"axis":{"orient":"left","offset":-263,"values":[0,0.5,1,1.5,2,2.5],"format":".1f","titlePadding":19}},
      "color":{"field":"s","type":"nominal","scale":{"domain":["Control","pcDNA – NEAT1","pcDNA – NEAT1 + miR – 122 – 5p mimic"],"range":["#050505","#58585e","#39393b"]},"legend":null}}},
    {"mark":{"type":"rule","color":"#1e1e1e","strokeWidth":1},"encoding":{
      "y":{"field":"v","type":"quantitative","title":"Relative expression","scale":{"domain":[0,2.5],"nice":false,"range":[1136.5,1003]},"axis":{"orient":"left","offset":-263,"values":[0,0.5,1,1.5,2,2.5],"format":".1f","titlePadding":19}},
      "y2":{"field":"e"}}},
    {"mark":{"type":"tick","orient":"horizontal","size":9,"thickness":1,"color":"#1e1e1e"},"encoding":{
      "y":{"field":"e","type":"quantitative","title":"Relative expression","scale":{"domain":[0,2.5],"nice":false,"range":[1136.5,1003]},"axis":{"orient":"left","offset":-263,"values":[0,0.5,1,1.5,2,2.5],"format":".1f","titlePadding":19}}}},
    {"data":{"values":[
      {"id":1,"g":"Group 1","s":"Control","lv":1.99},{"id":1,"g":"Group 1","s":"pcDNA – NEAT1","lv":1.99},
      {"id":2,"g":"Group 1","s":"pcDNA – NEAT1","lv":2.07},{"id":2,"g":"Group 1","s":"pcDNA – NEAT1 + miR – 122 – 5p mimic","lv":2.07},
      {"id":3,"g":"Group 2","s":"Control","lv":2.23},{"id":3,"g":"Group 2","s":"pcDNA – NEAT1","lv":2.23},
      {"id":4,"g":"Group 2","s":"pcDNA – NEAT1","lv":2.15},{"id":4,"g":"Group 2","s":"pcDNA – NEAT1 + miR – 122 – 5p mimic","lv":2.15},
      {"id":5,"g":"Group 3","s":"Control","lv":1.99},{"id":5,"g":"Group 3","s":"pcDNA – NEAT1","lv":1.99},
      {"id":6,"g":"Group 3","s":"pcDNA – NEAT1","lv":1.88},{"id":6,"g":"Group 3","s":"pcDNA – NEAT1 + miR – 122 – 5p mimic","lv":1.88}]},
     "mark":{"type":"line","color":"#555555","strokeWidth":1},"encoding":{
      "y":{"field":"lv","type":"quantitative","title":"Relative expression","scale":{"domain":[0,2.5],"nice":false,"range":[1136.5,1003]},"axis":{"orient":"left","offset":-263,"values":[0,0.5,1,1.5,2,2.5],"format":".1f","titlePadding":19}},
      "detail":{"field":"id","type":"nominal"}}},
    {"data":{"values":[
      {"g":"Group 1","s":"Control","lv":2.07,"t":"*"},{"g":"Group 1","s":"pcDNA – NEAT1","lv":2.15,"t":"*"},
      {"g":"Group 2","s":"Control","lv":2.32,"t":"*"},{"g":"Group 2","s":"pcDNA – NEAT1","lv":2.23,"t":"*"},
      {"g":"Group 3","s":"Control","lv":2.07,"t":"*"},{"g":"Group 3","s":"pcDNA – NEAT1","lv":1.97,"t":"*"}]},
     "mark":{"type":"text","dx":9.5,"dy":2,"fontSize":10,"color":"#555555"},"encoding":{
      "y":{"field":"lv","type":"quantitative","title":"Relative expression","scale":{"domain":[0,2.5],"nice":false,"range":[1136.5,1003]},"axis":{"orient":"left","offset":-263,"values":[0,0.5,1,1.5,2,2.5],"format":".1f","titlePadding":19}},
      "text":{"field":"t","type":"nominal"}}}
  ]}
]
}
